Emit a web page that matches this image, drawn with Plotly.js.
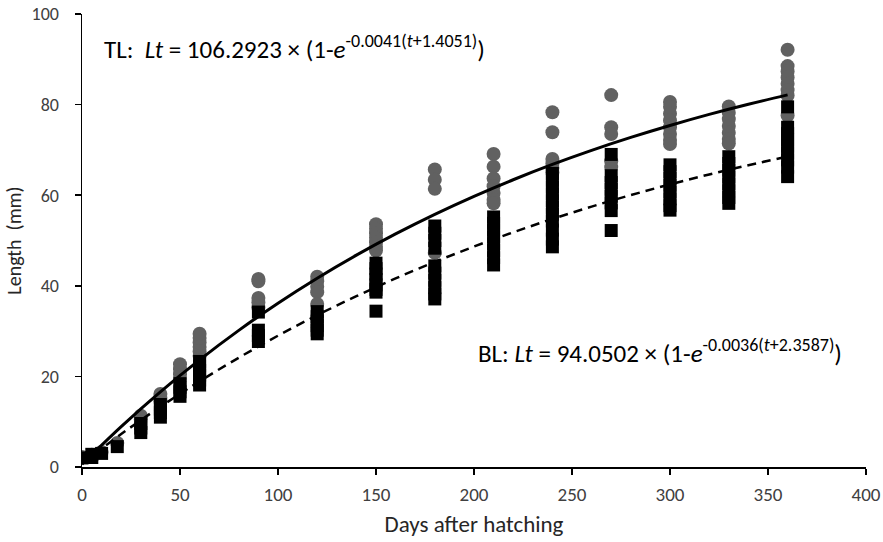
<!DOCTYPE html>
<html>
<head>
<meta charset="utf-8">
<script src="https://cdn.plot.ly/plotly-3.0.1.min.js"></script>
<style>html,body{margin:0;padding:0;background:#fff;}#chart{width:883px;height:542px;}</style>
</head>
<body>
<div id="chart"></div>
<script>
// Observed total length (TL) - grey circles
const tlDays = [0,5,10,18,
  30,30,40,40,40,50,50,50,50,
  60,60,60,60,60,60,
  90,90,90,90,90,
  120,120,120,120,120,
  150,150,150,150,150,150,150,
  180,180,180,180,
  210,210,210,210,210,210,210,
  240,240,240,240,240,240,
  270,270,270,270,270,
  300,300,300,300,300,300,300,300,
  330,330,330,330,330,330,330,
  360,360,360,360,360,360,360,360];
const tlLen = [2.2,2.7,3.3,5.3,
  10.5,11.3,14.5,15.3,16.1,19.5,20.5,21.6,22.7,
  24.5,25.5,26.5,27.5,28.5,29.4,
  41.5,41,37.3,36.3,35.2,
  42,41,39.8,38.6,36,
  53.6,52.6,51.6,50.6,49.6,48.6,47.8,
  65.7,63.4,61.4,47.3,
  69.1,66.3,63.7,62,60.5,59,58.2,
  78.3,73.9,68,67,66,65,
  82.1,75,73.5,67.5,66.2,
  80.6,79.5,78,76.5,75,73.5,72.2,71.3,
  79.6,78.2,76.8,75.3,73.8,72.4,71.4,
  92.1,88.5,87.3,86,84.6,83.2,82,77.6];

// Observed body length (BL) - black squares
const blDays = [0,5,5,10,18,
  30,30,30,40,40,40,40,50,50,50,50,
  60,60,60,60,60,60,
  90,90,90,90,
  120,120,120,120,120,120,
  150,150,150,150,150,150,150,150,
  180,180,180,180,180,180,180,180,180,180,
  210,210,210,210,210,210,210,210,
  240,240,240,240,240,240,240,240,240,240,240,
  270,270,270,270,270,270,270,270,
  300,300,300,300,300,300,300,300,
  330,330,330,330,330,330,330,330,
  360,360,360,360,360,360,360,360,360];
const blLen = [2.0,2.1,2.8,3.0,4.5,
  7.6,8.6,9.6,11,12,12.8,13.8,15.6,16.6,17.6,18.4,
  18.1,19.2,20.3,21.3,22.3,23.3,
  34.2,30.2,29,27.7,
  34.3,33.2,32.2,31.2,30.2,29.4,
  45,43.8,42.6,41.4,40.2,39.2,38.6,34.4,
  53.2,51.6,50,48.3,44.4,42.8,41.2,39.6,38.2,37.1,
  55.2,53.8,52.3,50.8,49.3,47.8,46.2,44.6,
  64.8,63.3,61.8,60.3,58.8,57.3,55.8,54.3,52.3,50.3,48.6,
  69,64.3,62.8,61.3,59.8,58.3,56.6,52.2,
  66.7,65.2,63.7,62.2,60.7,59.2,57.7,56.7,
  68.5,67,65.5,64,62.5,61,59.5,58.2,
  79.5,75,73.6,72.2,70.8,69.3,67.8,66.2,64.1];

// Fitted von Bertalanffy curves read along their drawn path
const fitDays = [0,20,40,60,80,100,120,140,160,180,200,220,240,260,280,300,320,340,360];
const tlFit = [0.61,8.93,16.60,23.65,30.16,36.16,41.68,46.76,51.45,55.77,59.75,63.41,66.79,69.90,72.76,75.40,77.84,80.08,82.14];
const blFit = [0.80,7.27,13.30,18.91,24.13,28.99,33.51,37.71,41.63,45.27,48.66,51.81,54.75,57.48,60.02,62.38,64.58,66.63,68.53];

const xTicks = [0,50,100,150,200,250,300,350,400];
const yTicks = [0,20,40,60,80,100];

const FONT = "Carlito, Lato, 'Open Sans', sans-serif";

const traces = [
  {x: tlDays, y: tlLen, type:'scatter', mode:'markers', name:'TL',
   marker:{symbol:'circle', size:14, color:'#616161'}, hoverinfo:'x+y'},
  {x: blDays, y: blLen, type:'scatter', mode:'markers', name:'BL',
   marker:{symbol:'square', size:13, color:'#000000'}, hoverinfo:'x+y'},
  {x: fitDays, y: tlFit, type:'scatter', mode:'lines', name:'TL fit',
   line:{color:'#000', width:3, shape:'spline'}},
  {x: fitDays, y: blFit, type:'scatter', mode:'lines', name:'BL fit',
   line:{color:'#000', width:2.5, dash:'9px,6px', shape:'spline'}}
];

const layout = {
  width:883, height:542,
  margin:{l:82, r:17, t:14, b:75},
  paper_bgcolor:'#fff', plot_bgcolor:'#fff',
  showlegend:false,
  font:{family:FONT, color:'#404040', size:18},
  xaxis:{range:[0,400], tickvals:xTicks, ticktext:xTicks.map(String),
    showgrid:false, zeroline:false, showline:true, linecolor:'#000', linewidth:1.5,
    ticks:'outside', ticklen:6, tickcolor:'#000', tickwidth:1.5,
    tickfont:{family:FONT, size:19, color:'#404040'}, ticklabelstandoff:4,
    title:{text:'Days after hatching', font:{family:FONT, size:23, color:'#262626'}, standoff:10},
    automargin:false},
  yaxis:{range:[0,100], tickvals:yTicks, ticktext:yTicks.map(String),
    showgrid:false, zeroline:false, showline:true, linecolor:'#000', linewidth:1.5,
    ticks:'outside', ticklen:6, tickcolor:'#000', tickwidth:1.5,
    tickfont:{family:FONT, size:18, color:'#404040'}, ticklabelstandoff:12,
    title:{text:'Length  (mm)', font:{family:FONT, size:20, color:'#262626'}, standoff:4},
    automargin:false},
  annotations:[
    {xref:'paper', yref:'paper', x:0.026, y:0.927, xanchor:'left', yanchor:'middle', showarrow:false,
     text:'TL:  <i>Lt</i> = 106.2923 × (1-<i>e</i><sup><span style="font-size:18px">-0.0041(<i>t</i>+1.4051)</span></sup>)',
     font:{family:FONT, size:25, color:'#000'}},
    {xref:'paper', yref:'paper', x:0.502, y:0.254, xanchor:'left', yanchor:'middle', showarrow:false,
     text:'BL: <i>Lt</i> = 94.0502 × (1-<i>e</i><sup><span style="font-size:18px">-0.0036(<i>t</i>+2.3587)</span></sup>)',
     font:{family:FONT, size:25, color:'#000'}}
  ]
};

Plotly.newPlot('chart', traces, layout, {displayModeBar:false, staticPlot:true});
</script>
</body>
</html>
